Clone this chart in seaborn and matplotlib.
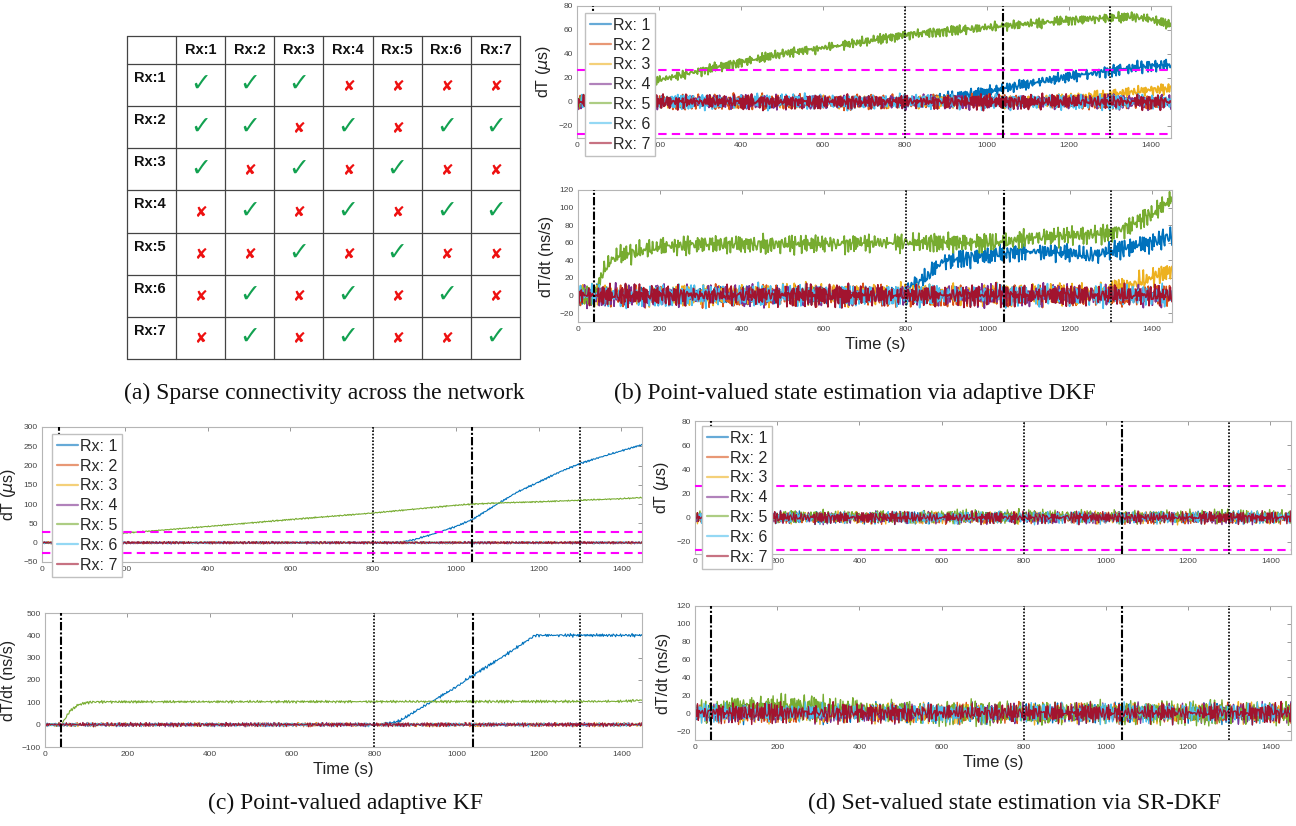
import numpy as np
import pandas as pd
import seaborn as sns
import matplotlib
matplotlib.use("Agg")
import matplotlib.pyplot as plt
from matplotlib.lines import Line2D

# ---------------- data ----------------
series_names = ["Rx: 1", "Rx: 2", "Rx: 3", "Rx: 4", "Rx: 5", "Rx: 6", "Rx: 7"]
series_colors = ["#0072BD", "#D95319", "#EDB120", "#7E2F8E", "#77AC30", "#4DBEEE", "#A2142F"]
table_labels = ["Rx:1", "Rx:2", "Rx:3", "Rx:4", "Rx:5", "Rx:6", "Rx:7"]
connectivity = [
    [1, 1, 1, 0, 0, 0, 0],
    [1, 1, 0, 1, 0, 1, 1],
    [1, 0, 1, 0, 1, 0, 0],
    [0, 1, 0, 1, 0, 1, 1],
    [0, 0, 1, 0, 1, 0, 0],
    [0, 1, 0, 1, 0, 1, 0],
    [0, 1, 0, 1, 0, 0, 1],
]
event_dashdot = [40, 1040]
event_dotted = [800, 1300]
threshold_us = 26.5
xticks = [0, 200, 400, 600, 800, 1000, 1200, 1400]

flat_t = [0, 1450]
flat_v = [0, 0]

# (b) adaptive DKF, dT (us)
b_dT_rx1_t = [0, 820, 900, 1000, 1040, 1100, 1200, 1300, 1400, 1450]
b_dT_rx1_v = [0, 0, 3, 8, 11, 15, 21, 26, 30, 31]
b_dT_rx3_t = [0, 1100, 1200, 1300, 1400, 1450]
b_dT_rx3_v = [0, 0, 3, 6, 10, 11]
b_dT_rx5_t = [0, 40, 100, 200, 300, 400, 500, 600, 700, 800, 900, 1000, 1100, 1200, 1300, 1350, 1400, 1450]
b_dT_rx5_v = [0, 0, 8, 18, 26, 33, 40, 45, 50, 56, 59, 62, 65, 68, 70, 71, 69, 64]
b_dT_jitter = [4, 5, 4, 5, 3.5, 5, 5]

# (b) adaptive DKF, dT/dt (ns/s)
b_rate_rx1_t = [0, 800, 810, 850, 880, 900, 1000, 1040, 1100, 1200, 1250, 1300, 1400, 1450]
b_rate_rx1_v = [0, 0, 10, 20, 35, 40, 45, 48, 50, 48, 45, 50, 60, 68]
b_rate_rx3_t = [0, 1280, 1350, 1400, 1450]
b_rate_rx3_v = [0, 2, 12, 20, 28]
b_rate_rx5_t = [0, 40, 60, 80, 100, 150, 200, 300, 500, 800, 1040, 1100, 1200, 1300, 1350, 1400, 1450]
b_rate_rx5_v = [0, 0, 25, 40, 45, 50, 55, 58, 58, 60, 60, 65, 68, 70, 80, 92, 110]
b_rate_jitter = [9, 10, 10, 10, 9, 10, 10]

# (c) adaptive KF, dT (us)
c_dT_rx1_t = [0, 860, 900, 950, 1000, 1040, 1100, 1150, 1200, 1250, 1300, 1350, 1400, 1450]
c_dT_rx1_v = [0, 0, 8, 24, 42, 60, 100, 132, 157, 183, 205, 222, 238, 254]
c_dT_rx5_t = [0, 40, 100, 200, 400, 600, 800, 900, 1000, 1040, 1100, 1200, 1300, 1400, 1450]
c_dT_rx5_v = [0, 0, 12, 25, 42, 60, 77, 87, 97, 100, 103, 106, 110, 114, 117]
c_dT_jitter = [2, 2.5, 2.5, 2.5, 1.5, 2.5, 2.5]

# (c) adaptive KF, dT/dt (ns/s)
c_rate_rx1_t = [0, 820, 860, 900, 950, 1000, 1040, 1100, 1150, 1190, 1450]
c_rate_rx1_v = [0, 0, 15, 60, 115, 170, 222, 290, 350, 400, 400]
c_rate_rx5_t = [0, 40, 50, 60, 80, 100, 120, 1400, 1450]
c_rate_rx5_v = [0, 0, 30, 60, 88, 98, 102, 104, 110]
c_rate_jitter = [6, 7, 7, 7, 5, 7, 7]

# (d) SR-DKF, dT (us) and dT/dt (ns/s)
d_dT_rx5_t = [0, 1450]
d_dT_rx5_v = [1, 1]
d_dT_jitter = [4, 4, 4, 4, 4.5, 4, 4]
d_rate_rx5_t = [0, 40, 100, 300, 450, 600, 1450]
d_rate_rx5_v = [0, 2, 8, 6, 2, 0, 0]
d_rate_jitter = [9, 9, 9, 9, 11, 9, 9]

# hand-typed jitter sequences (measurement noise texture)
jitter_a = [0.62, -0.41, 0.15, -0.88, 0.37, 0.94, -0.22, -0.67, 0.48, -0.05, 0.81, -0.93, 0.29, 0.56,
            -0.74, 0.08, -0.36, 0.71, -0.58, 0.99, -0.13, 0.42, -0.85, 0.19, 0.66, -0.49, -0.02, 0.87,
            -0.71, 0.33, -0.96, 0.54, 0.11, -0.28, 0.77, -0.62, 0.24, -0.44, 0.91, -0.17, 0.58, -0.83,
            0.05, 0.69, -0.39, -0.76, 0.46, 0.18, -0.55, 0.84, -0.09, 0.31, -0.97, 0.63, -0.26, 0.74,
            -0.51, 0.02, 0.89, -0.68, 0.39, -0.14, 0.52, -0.79, 0.21, 0.95, -0.33, -0.61, 0.44, -0.07,
            0.79, -0.92, 0.27, 0.60, -0.47, 0.13, -0.84, 0.70, -0.19, 0.36, -0.65, 0.98, -0.38, 0.09,
            0.57, -0.73, 0.25, -0.53, 0.83, -0.11, 0.47, -0.89, 0.34, 0.72, -0.30, -0.57, 0.12]
jitter_b = [-0.35, 0.72, -0.18, 0.51, -0.94, 0.27, 0.63, -0.58, 0.09, -0.81, 0.44, 0.86, -0.23, -0.66,
            0.31, -0.07, 0.92, -0.49, 0.17, -0.73, 0.58, 0.03, -0.88, 0.41, -0.29, 0.77, -0.54, 0.21,
            0.69, -0.97, 0.35, -0.12, 0.82, -0.61, 0.06, 0.53, -0.42, -0.79, 0.26, 0.95, -0.31, 0.47,
            -0.68, 0.14, -0.03, 0.74, -0.86, 0.39, 0.61, -0.24, -0.52, 0.88, -0.15, 0.33, -0.91, 0.57,
            0.19, -0.45, 0.71, -0.63, 0.04, -0.37, 0.84, -0.76, 0.28, 0.49, -0.09, -0.69, 0.97, -0.21,
            0.43, -0.56, 0.12, 0.79, -0.83, 0.36, -0.27, 0.64, -0.48, 0.07, 0.55, -0.93, 0.23, 0.67,
            -0.14, -0.6, 0.38]

# ---------------- figure ----------------
sns.set_theme(style="white")
plt.rcParams["font.family"] = ["Liberation Sans", "DejaVu Sans"]
plt.rcParams["mathtext.fontset"] = "dejavusans"

W, H = 1296, 826
fig = plt.figure(figsize=(W / 100, H / 100), dpi=100)


def add_ax(x0, y0, x1, y1):
    return fig.add_axes([x0 / W, 1 - y1 / H, (x1 - x0) / W, (y1 - y0) / H])


t = np.arange(0, 1451, 2)


def jitter(k, amp):
    a = np.resize(np.roll(jitter_a, 13 * k), len(t))
    b = np.resize(np.roll(jitter_b, 29 * k + 7), len(t))
    return amp * (a + b) / 1.3


def draw_panel(ax, trends, amps, k0, ylim, yticks, ylabel, lw, xlabel=None, thresh=False, legend_at=None):
    frames = []
    for i, name in enumerate(series_names):
        kt, kv = trends[i]
        y = np.interp(t, kt, kv) + jitter(i + k0, amps[i])
        frames.append(pd.DataFrame({"Time": t, "value": y, "series": name}))
    df = pd.concat(frames, ignore_index=True)
    sns.lineplot(data=df, x="Time", y="value", hue="series", hue_order=series_names,
                 palette=series_colors, linewidth=lw, estimator=None, errorbar=None,
                 legend=False, sort=False, ax=ax)
    if thresh:
        for yv in (threshold_us, -threshold_us):
            ax.axhline(yv, color="#ff00ff", ls=(0, (4, 2.5)), lw=1.5, zorder=4)
    for xv in event_dashdot:
        ax.axvline(xv, color="black", ls=(0, (4, 1, 1, 1)), lw=1.5, zorder=5)
    for xv in event_dotted:
        ax.axvline(xv, color="black", ls=(0, (1, 1)), lw=1.2, zorder=5)
    ax.set_xlim(0, 1450)
    ax.set_ylim(*ylim)
    ax.set_xticks(xticks)
    ax.set_yticks(yticks)
    ax.tick_params(direction="in", length=3, width=0.6, color="#888888", labelsize=6,
                   labelcolor="#444444", top=True, right=True, pad=3)
    for s in ax.spines.values():
        s.set_color("#b5b5b5")
        s.set_linewidth(0.8)
    ax.set_ylabel(ylabel, fontsize=11.5, color="#222222", labelpad=4)
    ax.set_xlabel(xlabel if xlabel else "", fontsize=12, color="#222222", labelpad=3)
    if legend_at is not None:
        handles = [Line2D([], [], color=c, lw=1.6, alpha=0.6) for c in series_colors]
        ax.legend(handles, series_names, loc="upper left",
                  bbox_to_anchor=(legend_at[0] / W, 1 - legend_at[1] / H),
                  bbox_transform=fig.transFigure, frameon=True, fancybox=False,
                  edgecolor="#c0c0c0", framealpha=1, fontsize=11.5, labelspacing=0.3,
                  handlelength=1.3, handletextpad=0.15, borderpad=0.3, borderaxespad=0)


flat = (flat_t, flat_v)

# ---- (a) table ----
ax_t = add_ax(127, 36, 520, 359)
ax_t.set_xlim(0, 393)
ax_t.set_ylim(323, 0)
ax_t.axis("off")
col_edges = [0, 49] + [49 + (393 - 49) / 7 * (j + 1) for j in range(7)]
row_edges = [0, 28] + [28 + (323 - 28) / 7 * (j + 1) for j in range(7)]
for xe in col_edges:
    ax_t.plot([xe, xe], [0, 323], color="#444444", lw=0.9, clip_on=False)
for ye in row_edges:
    ax_t.plot([0, 393], [ye, ye], color="#444444", lw=0.9, clip_on=False)
for j, lab in enumerate(table_labels):
    cx = (col_edges[j + 1] + col_edges[j + 2]) / 2
    ax_t.text(cx, 14.5, lab, ha="center", va="center", fontsize=10.5, fontweight="bold", color="#111111")
    ry = row_edges[j + 1]
    ax_t.text(7, ry + 14, lab, ha="left", va="center", fontsize=10.5, fontweight="bold", color="#111111")
for r in range(7):
    for c in range(7):
        cx = (col_edges[c + 1] + col_edges[c + 2]) / 2
        cy = (row_edges[r + 1] + row_edges[r + 2]) / 2
        if connectivity[r][c]:
            ax_t.text(cx, cy - 1, "\u2713", ha="center", va="center", fontsize=18,
                      color="#12a150", family="DejaVu Sans")
        else:
            ax_t.text(cx, cy + 1, "\u2718", ha="center", va="center", fontsize=11,
                      color="#ee1111", family="DejaVu Sans")

# ---- (b) ----
ax_b1 = add_ax(577, 6, 1171, 138)
draw_panel(ax_b1, [(b_dT_rx1_t, b_dT_rx1_v), flat, (b_dT_rx3_t, b_dT_rx3_v), flat,
                   (b_dT_rx5_t, b_dT_rx5_v), flat, flat],
           b_dT_jitter, 0, (-30, 80), [-20, 0, 20, 40, 60, 80], r"dT ($\mu$s)", 1.3,
           thresh=True, legend_at=(585, 13))
ax_b2 = add_ax(578, 190, 1172, 322)
draw_panel(ax_b2, [(b_rate_rx1_t, b_rate_rx1_v), flat, (b_rate_rx3_t, b_rate_rx3_v), flat,
                   (b_rate_rx5_t, b_rate_rx5_v), flat, flat],
           b_rate_jitter, 3, (-30, 120), [-20, 0, 20, 40, 60, 80, 100, 120], "dT/dt (ns/s)", 1.2,
           xlabel="Time (s)")

# ---- (c) ----
ax_c1 = add_ax(42, 427, 642, 562)
draw_panel(ax_c1, [(c_dT_rx1_t, c_dT_rx1_v), flat, flat, flat, (c_dT_rx5_t, c_dT_rx5_v), flat, flat],
           c_dT_jitter, 5, (-50, 300), [-50, 0, 50, 100, 150, 200, 250, 300], r"dT ($\mu$s)", 0.8,
           thresh=True, legend_at=(52, 434))
ax_c2 = add_ax(45, 613, 642, 747)
draw_panel(ax_c2, [(c_rate_rx1_t, c_rate_rx1_v), flat, flat, flat, (c_rate_rx5_t, c_rate_rx5_v), flat, flat],
           c_rate_jitter, 8, (-100, 500), [-100, 0, 100, 200, 300, 400, 500], "dT/dt (ns/s)", 0.8,
           xlabel="Time (s)")

# ---- (d) ----
ax_d1 = add_ax(695, 421, 1291, 554)
draw_panel(ax_d1, [flat, flat, flat, flat, (d_dT_rx5_t, d_dT_rx5_v), flat, flat],
           d_dT_jitter, 11, (-30, 80), [-20, 0, 20, 40, 60, 80], r"dT ($\mu$s)", 1.0,
           thresh=True, legend_at=(702, 426))
ax_d2 = add_ax(695, 606, 1291, 740)
draw_panel(ax_d2, [flat, flat, flat, flat, (d_rate_rx5_t, d_rate_rx5_v), flat, flat],
           d_rate_jitter, 14, (-30, 120), [-20, 0, 20, 40, 60, 80, 100, 120], "dT/dt (ns/s)", 1.0,
           xlabel="Time (s)")

# ---- captions ----
cap_kw = dict(ha="center", va="center", fontsize=17, family="Liberation Serif", color="#111111")
fig.text(324 / W, 1 - 393 / H, "(a) Sparse connectivity across the network", **cap_kw)
fig.text(855 / W, 1 - 393 / H, "(b) Point-valued state estimation via adaptive DKF", **cap_kw)
fig.text(345 / W, 1 - 803 / H, "(c) Point-valued adaptive KF", **cap_kw)
fig.text(1015 / W, 1 - 803 / H, "(d) Set-valued state estimation via SR-DKF", **cap_kw)

fig.savefig("out.png", dpi=100, facecolor="white")
